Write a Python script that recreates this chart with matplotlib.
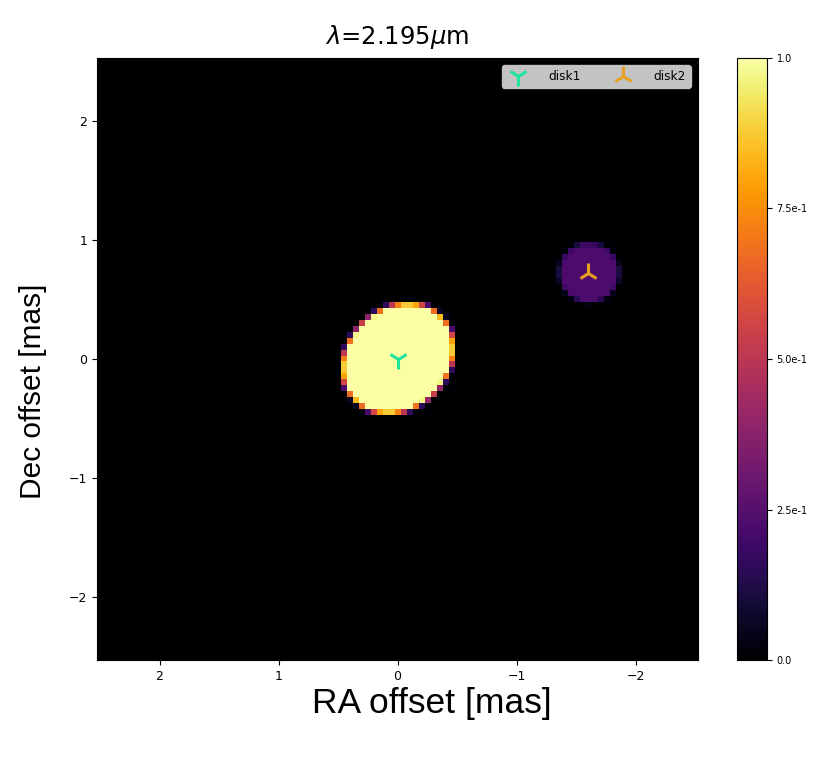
import numpy as np
import matplotlib.pyplot as plt
from matplotlib.ticker import FuncFormatter

# image grid (mas)
dim = 101
pixSize = 0.05
wl = 2.195

# disk components
names = ["disk1", "disk2"]
x0 = [0.0, -1.6]
y0 = [0.0, 0.72]
diam = [1.02, 0.5]
elong = [1.2, 1.0]
pa = [-45.0, 0.0]
intensity = [1.0, 0.23]
markers = ["1", "2"]
colors = ["#1ee59a", "#e8a020"]

# supersampled rendering of the disks
sub = 8
half = dim * pixSize / 2
n = dim * sub
c = -half + (np.arange(n) + 0.5) * pixSize / sub
X, Y = np.meshgrid(c, c)
img = np.zeros((n, n))
for i in range(len(names)):
    t = np.deg2rad(pa[i])
    dx = X - x0[i]
    dy = Y - y0[i]
    u = dx * np.sin(t) + dy * np.cos(t)
    v = dx * np.cos(t) - dy * np.sin(t)
    a = diam[i] / 2
    b = a / elong[i]
    inside = (u / a) ** 2 + (v / b) ** 2 <= 1
    img[inside] = np.maximum(img[inside], intensity[i])
img = img.reshape(dim, sub, dim, sub).mean(axis=(1, 3))
img = img / img.max()

fig = plt.figure(figsize=(8.3, 7.59), dpi=100)
ax = fig.add_axes([0.1169, 0.1304, 0.7241, 0.7932])
cax = fig.add_axes([0.888, 0.1304, 0.036, 0.7932])

im = ax.imshow(img, origin="lower", cmap="inferno", vmin=0, vmax=1,
               extent=[-half, half, -half, half], interpolation="nearest",
               aspect="auto")
ax.invert_xaxis()
for i in range(len(names)):
    ax.plot(x0[i], y0[i], marker=markers[i], color=colors[i], ms=14, mew=2.2,
            ls="none", label=names[i])

ax.set_xlabel("RA offset [mas]", fontsize=25.5, family="Liberation Sans")
ax.set_ylabel("Dec offset [mas]", fontsize=21.5, family="Liberation Sans")
ax.xaxis.set_label_coords(0.557, -0.045)
ax.yaxis.set_label_coords(-0.083, 0.447)
ax.set_title(r"$\lambda$=" + f"{wl}" + r"$\mu$m", fontsize=17.5, pad=10)
ax.tick_params(labelsize=9)
ax.set_xticks([2, 1, 0, -1, -2])
ax.set_yticks([-2, -1, 0, 1, 2])
ax.legend(loc="upper right", ncol=2, fontsize=8.7, facecolor="#d9d9d9",
          framealpha=0.9, handletextpad=1.5, columnspacing=2.5, borderaxespad=0.6)

def fmt(val, pos):
    if val in (0, 1):
        return f"{val:.1f}"
    return f"{val:.1e}".replace("e-01", "e-1")

cb = fig.colorbar(im, cax=cax, ticks=[0, 0.25, 0.5, 0.75, 1.0],
                  format=FuncFormatter(fmt))
cb.ax.tick_params(labelsize=7)

plt.savefig("out.png")
